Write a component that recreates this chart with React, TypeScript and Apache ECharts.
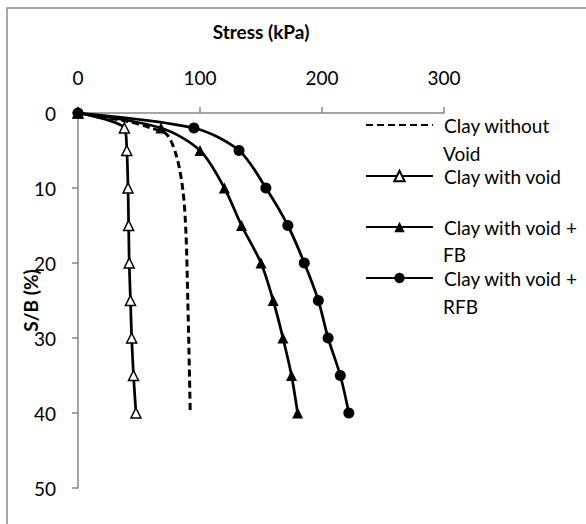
import React, { useEffect, useRef } from "react";
import * as echarts from "echarts";

const seriesNames = [
  "Clay without Void",
  "Clay with void",
  "Clay with void + FB",
  "Clay with void + RFB",
];
const legendFirstLines = ["Clay without", "Clay with void", "Clay with void +", "Clay with void +"];
const legendSecondLines = ["Void", "", "FB", "RFB"];

const xTicks = [0, 100, 200, 300];
const yTicks = [0, 10, 20, 30, 40, 50];

// Clay without void (dashed, no markers)
const noVoidStress = [0, 40, 60, 73, 81, 86, 88.5, 90, 91, 92];
const noVoidSB = [0, 1.1, 2, 2.9, 5.9, 10.3, 16, 25, 32, 40];

// Shared S/B levels of the marked series
const markedSB = [0, 2, 5, 10, 15, 20, 25, 30, 35, 40];
const voidStress = [0, 38, 40, 41, 41.5, 42, 43, 44, 45.5, 47.5];
const fbStress = [0, 68, 100, 120, 134, 150, 160, 168, 175, 180];
const rfbStress = [0, 95, 132, 154, 172, 185.5, 197, 205, 215, 222];

const FONT = "Lato";

function pairs(xs: number[], ys: number[]) {
  return xs.map((x, i) => [x, ys[i]]);
}

export default function App() {
  const ref = useRef<HTMLDivElement>(null);
  useEffect(() => {
    if (!ref.current) return;
    const chart = echarts.init(ref.current, undefined, { renderer: "svg" });
    const axisColor = "#868686";
    const labelStyle = { color: "#000", fontSize: 19, fontFamily: FONT };
    const legendX = 365;
    const legendYs = [127, 178, 228, 280];
    chart.setOption({
      animation: false,
      backgroundColor: "#fff",
      grid: { left: 78, top: 113, width: 366, height: 375, outerBoundsMode: "none", containLabel: false },
      xAxis: {
        type: "value",
        position: "top",
        min: xTicks[0],
        max: xTicks[xTicks.length - 1],
        interval: xTicks[1] - xTicks[0],
        name: "Stress (kPa)",
        nameLocation: "middle",
        nameGap: 72,
        nameMoveOverlap: false,
        nameTextStyle: { color: "#000", fontSize: 19, fontWeight: "bold", fontFamily: FONT },
        axisLine: { lineStyle: { color: axisColor, width: 1.5 } },
        axisTick: { show: true, length: 6, lineStyle: { color: axisColor, width: 1.5 } },
        axisLabel: { ...labelStyle, margin: 26 },
        splitLine: { show: false },
      },
      yAxis: {
        type: "value",
        inverse: true,
        min: yTicks[0],
        max: yTicks[yTicks.length - 1],
        interval: yTicks[1] - yTicks[0],
        name: "S/B (%)",
        nameLocation: "middle",
        nameGap: 38,
        nameMoveOverlap: false,
        nameTextStyle: { color: "#000", fontSize: 19, fontWeight: "bold", fontFamily: FONT },
        axisLine: { show: true, lineStyle: { color: axisColor, width: 1.5 } },
        axisTick: { show: true, length: 6, lineStyle: { color: axisColor, width: 1.5 } },
        axisLabel: { ...labelStyle, margin: 22 },
        splitLine: { show: false },
      },
      legend: {
        orient: "vertical",
        left: legendX,
        top: legendYs[0] - 12,
        padding: 0,
        itemWidth: 67,
        itemHeight: 13,
        itemGap: 31,
        selectedMode: false,
        data: seriesNames,
        formatter: (name: string) => legendFirstLines[seriesNames.indexOf(name)],
        textStyle: { color: "#000", fontSize: 19, fontFamily: FONT, lineHeight: 20, padding: [0, 0, 0, 6] },
      },
      graphic: [
        {
          type: "rect",
          shape: { x: 7, y: 8, width: 700, height: 700 },
          style: { fill: "none", stroke: "#8c8c8c", lineWidth: 1.5 },
          silent: true,
        },
        ...legendSecondLines
          .map((t, i) => ({ t, i }))
          .filter((o) => o.t)
          .map((o) => ({
            type: "text",
            x: 443,
            y: legendYs[o.i] + 26,
            style: { text: o.t, fill: "#000", fontSize: 19, fontFamily: FONT, verticalAlign: "middle" },
          })),
      ],
      series: [
        {
          name: seriesNames[0],
          type: "line",
          data: pairs(noVoidStress, noVoidSB),
          smooth: 0.3,
          showSymbol: false,
          lineStyle: { color: "#000", width: 3, type: [7, 4] },
          itemStyle: { color: "rgba(0,0,0,0)", opacity: 0 },
        },
        {
          name: seriesNames[1],
          type: "line",
          data: pairs(voidStress, markedSB),
          smooth: 0.3,
          symbol: "triangle",
          symbolSize: 10,
          lineStyle: { color: "#000", width: 2.75 },
          itemStyle: { color: "#fff", borderColor: "#000", borderWidth: 1.5 },
        },
        {
          name: seriesNames[2],
          type: "line",
          data: pairs(fbStress, markedSB),
          smooth: 0.3,
          symbol: "triangle",
          symbolSize: 11,
          lineStyle: { color: "#000", width: 2.75 },
          itemStyle: { color: "#000" },
        },
        {
          name: seriesNames[3],
          type: "line",
          data: pairs(rfbStress, markedSB),
          smooth: 0.3,
          symbol: "circle",
          symbolSize: 11,
          lineStyle: { color: "#000", width: 2.75 },
          itemStyle: { color: "#000" },
        },
      ],
    });
    return () => chart.dispose();
  }, []);
  return (
    <div style={{ position: "fixed", left: 0, top: 0, width: 586, height: 524 }}>
      <div ref={ref} style={{ width: 586, height: 524 }} />
    </div>
  );
}
